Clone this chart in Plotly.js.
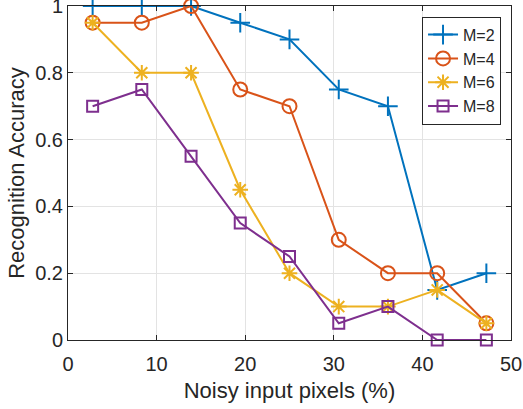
<!DOCTYPE html>
<html><head><meta charset="utf-8">
<script src="https://cdn.plot.ly/plotly-3.0.1.min.js"></script>
<style>html,body{margin:0;padding:0;background:#fff}#chart{width:523px;height:409px}</style>
</head><body><div id="chart"></div>
<script>
const noisePct = [2.78, 8.33, 13.89, 19.44, 25.0, 30.56, 36.11, 41.67, 47.22];
const seriesNames = ["M=2", "M=4", "M=6", "M=8"];
const accM2 = [1, 1, 1, 0.95, 0.9, 0.75, 0.7, 0.15, 0.2];
const accM4 = [0.95, 0.95, 1, 0.75, 0.7, 0.3, 0.2, 0.2, 0.05];
const accM6 = [0.95, 0.8, 0.8, 0.45, 0.2, 0.1, 0.1, 0.15, 0.05];
const accM8 = [0.7, 0.75, 0.55, 0.35, 0.25, 0.05, 0.1, 0, 0];
const xTicks = [0, 10, 20, 30, 40, 50];
const yTicks = [0, 0.2, 0.4, 0.6, 0.8, 1];

const colors = ["#0072BD", "#D95319", "#EDB120", "#7E2F8E"];
const symbols = ["cross-thin-open", "circle-open", "asterisk-open", "square-open"];
const sizes = [14, 14, 13, 11];
const allY = [accM2, accM4, accM6, accM8];

const traces = allY.map((ys, i) => ({
  x: noisePct, y: ys, name: seriesNames[i], type: "scatter", mode: "lines+markers",
  cliponaxis: false,
  line: {color: colors[i], width: 2},
  marker: {symbol: symbols[i], size: sizes[i], color: colors[i], line: {color: colors[i], width: 2}}
}));

const font = {family: "Liberation Sans, Arial, sans-serif", color: "#262626"};
const layout = {
  width: 523, height: 409,
  margin: {l: 68, r: 12, t: 6, b: 69},
  paper_bgcolor: "#fff", plot_bgcolor: "#fff",
  showlegend: true,
  font: Object.assign({size: 16}, font),
  xaxis: {
    range: [0, 50], tickvals: xTicks, ticktext: xTicks.map(String),
    showgrid: true, gridcolor: "#e3e3e3", gridwidth: 1, zeroline: false,
    showline: true, linecolor: "#262626", linewidth: 1, mirror: "ticks",
    ticks: "inside", ticklen: 5, tickcolor: "#262626", automargin: false,
    tickfont: Object.assign({size: 20}, font), ticklabeloverflow: "allow",
    ticklabelstandoff: 6,
    title: {text: "Noisy input pixels (%)", font: Object.assign({size: 22}, font), standoff: 8}
  },
  yaxis: {
    range: [0, 1.000001], tickvals: yTicks, ticktext: yTicks.map(String),
    showgrid: true, gridcolor: "#e3e3e3", gridwidth: 1, zeroline: false,
    showline: true, linecolor: "#262626", linewidth: 1, mirror: "ticks",
    ticks: "inside", ticklen: 5, tickcolor: "#262626", automargin: false,
    tickfont: Object.assign({size: 20}, font), ticklabeloverflow: "allow",
    title: {text: "Recognition Accuracy", font: Object.assign({size: 22}, font), standoff: 4}
  },
  legend: {
    x: 0.9775, y: 0.968, xanchor: "right", yanchor: "top",
    bgcolor: "#fff", bordercolor: "#262626", borderwidth: 1,
    font: Object.assign({size: 16}, font), tracegroupgap: 0, itemwidth: 30
  }
};
Plotly.newPlot("chart", traces, layout, {displayModeBar: false, staticPlot: true});
</script></body></html>
